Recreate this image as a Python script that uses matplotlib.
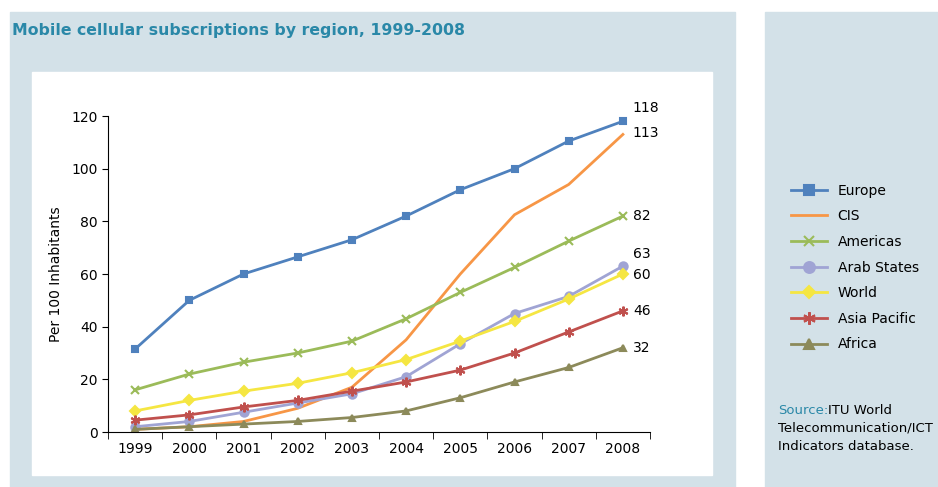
import matplotlib.pyplot as plt
from matplotlib.patches import Rectangle

years = [1999, 2000, 2001, 2002, 2003, 2004, 2005, 2006, 2007, 2008]
europe = [31.5, 50, 60, 66.5, 73, 82, 92, 100, 110.5, 118]
cis = [1, 2, 4, 9, 17, 35, 60, 82.5, 94, 113]
americas = [16, 22, 26.5, 30, 34.5, 43, 53, 62.5, 72.5, 82]
arab = [2, 4, 7.5, 11, 14.5, 21, 33.5, 45, 51.5, 63]
world = [8, 12, 15.5, 18.5, 22.5, 27.5, 34.5, 42, 50.5, 60]
asia = [4.5, 6.5, 9.5, 12, 15.5, 19, 23.5, 30, 38, 46]
africa = [1, 2, 3, 4, 5.5, 8, 13, 19, 24.5, 32]
end_labels = ['118', '113', '82', '63', '60', '46', '32']

series = [
    ('Europe', europe, '#4f81bd', 's', 5),
    ('CIS', cis, '#f79646', '', 0),
    ('Americas', americas, '#9bbb59', 'x', 6),
    ('Arab States', arab, '#a0a4d4', 'o', 6),
    ('World', world, '#f5e642', 'D', 5),
    ('Asia Pacific', asia, '#c0504d', (6, 2, 0), 7),
    ('Africa', africa, '#8c8a5a', '^', 5),
]
# label offsets (pixels) for the numbers at the end of each line
label_dy = [13, 1, 0, 12, -1, 0, 0]

fig = plt.figure(figsize=(9.38, 4.87), dpi=100)
W, H = 938, 487

def px(x, y, w, h):
    return (x / W, 1 - (y + h) / H, w / W, h / H)

bg = '#d3e1e8'
for x, y, w, h, c in [(10, 12, 725, 475, bg), (765, 12, 173, 475, bg), (32, 72, 680, 403, 'white')]:
    l, b, ww, hh = px(x, y, w, h)
    fig.patches.append(Rectangle((l, b), ww, hh, transform=fig.transFigure, color=c, zorder=-1))

fig.text(12 / W, 1 - 30 / H, 'Mobile cellular subscriptions by region, 1999-2008',
         color='#2a88a8', fontsize=11.3, fontweight='bold', va='center')

ax = fig.add_axes(px(108, 116, 542, 316))
ax.set_facecolor('white')
lines = []
for name, vals, col, mk, ms in series:
    ln, = ax.plot(years, vals, color=col, lw=2, marker=mk if mk else None,
                  markersize=ms, markeredgewidth=1.5, label=name)
    lines.append(ln)

for (name, vals, col, mk, ms), lab, dy in zip(series, end_labels, label_dy):
    ax.annotate(lab, (years[-1], vals[-1]), xytext=(10, dy), textcoords='offset pixels',
                fontsize=10, va='center', ha='left', annotation_clip=False)

ax.set_xlim(1998.5, 2008.5)
ax.set_ylim(0, 120)
ax.set_yticks(range(0, 121, 20))
ax.set_xticks(years)
ax.set_xticks([y + 0.5 for y in [1998] + years], minor=True)
ax.tick_params(axis='x', which='major', length=0, labelsize=10, pad=7)
ax.tick_params(axis='x', which='minor', length=5, direction='out')
ax.tick_params(axis='y', labelsize=10, length=4, direction='out')
for s in ['top', 'right']:
    ax.spines[s].set_visible(False)
ax.set_ylabel('Per 100 Inhabitants', fontsize=10, labelpad=6)

fig.legend(handles=lines, loc='upper left', bbox_to_anchor=(778 / W, 1 - 171 / H),
           frameon=False, fontsize=10, handlelength=2.6, labelspacing=0.84,
           markerscale=1.3)

fig.text(778 / W, 1 - 410 / H, 'Source:', color='#2a88a8', fontsize=9.5, va='center')
fig.text(828 / W, 1 - 410 / H, 'ITU World', color='black', fontsize=9.5, va='center')
fig.text(778 / W, 1 - 428 / H, 'Telecommunication/ICT', color='black', fontsize=9.5, va='center')
fig.text(778 / W, 1 - 446 / H, 'Indicators database.', color='black', fontsize=9.5, va='center')

fig.savefig('out.png', dpi=100, facecolor='white')
